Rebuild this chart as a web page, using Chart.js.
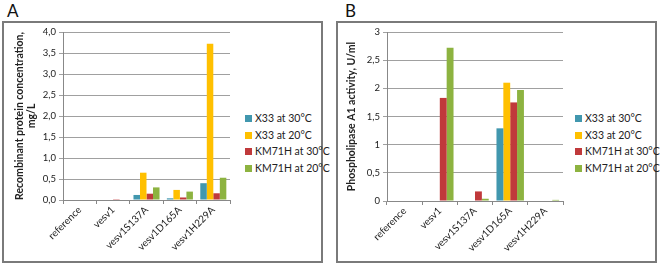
<!DOCTYPE html>
<html>
<head>
<meta charset="utf-8">
<script src="https://cdn.jsdelivr.net/npm/chart.js@4"></script>
<style>
  body { margin: 0; background: #fff; font-family: Lato, sans-serif; }
  .panel { position: absolute; top: 21px; width: 317px; height: 238px; border: 2px solid #7a7a7a; }
  .panel canvas { position: absolute; left: 0; top: 0; }
  .letter { position: absolute; top: 0px; font-size: 17px; color: #111; }
  .legend { position: absolute; top: 87px; font-size: 10.5px; color: #222; }
  .legend div { height: 16.7px; line-height: 16.7px; white-space: nowrap; }
  .legend span { display: inline-block; width: 7px; height: 7px; margin-right: 3px; vertical-align: -0px; }
</style>
</head>
<body>
<div class="letter" style="left:7px">A</div>
<div class="letter" style="left:345px">B</div>
<div class="panel" style="left:2px"><canvas id="chartA"></canvas><div class="legend" id="legA" style="left:241px"></div></div>
<div class="panel" style="left:336px"><canvas id="chartB"></canvas><div class="legend" id="legB" style="left:237px"></div></div>
<script>
const categories = ["reference", "vesv1", "vesv1S137A", "vesv1D165A", "vesv1H229A"];
const seriesNames = ["X33 at 30°C", "X33 at 20°C", "KM71H at 30°C", "KM71H at 20°C"];
const seriesColors = ["#4197ae", "#ffc000", "#c0393b", "#8db340"];

// panel A: recombinant protein concentration, mg/L
const concX33_30 = [0, 0, 0.12, 0.04, 0.40];
const concX33_20 = [0, 0, 0.65, 0.24, 3.72];
const concKM_30 = [0, 0.02, 0.15, 0.06, 0.16];
const concKM_20 = [0, 0, 0.30, 0.20, 0.53];

// panel B: phospholipase A1 activity, U/ml
const actX33_30 = [0, 0, 0, 1.29, 0];
const actX33_20 = [0, 0, 0, 2.10, 0];
const actKM_30 = [0, 1.83, 0.17, 1.75, 0];
const actKM_20 = [0, 2.72, 0.04, 1.97, 0.02];

Chart.defaults.font.family = "Lato, sans-serif";
Chart.defaults.color = "#222";

function makeLegend(id) {
  const el = document.getElementById(id);
  seriesNames.forEach((name, i) => {
    const row = document.createElement("div");
    const box = document.createElement("span");
    box.style.background = seriesColors[i];
    row.appendChild(box);
    row.appendChild(document.createTextNode(name));
    el.appendChild(row);
  });
}

function makeChart(id, data, yMax, title, decimals, size) {
  const c = document.getElementById(id);
  c.width = size.w; c.height = 238;
  c.style.width = size.w + "px"; c.style.height = "238px";
  new Chart(c, {
    type: "bar",
    data: {
      labels: categories,
      datasets: data.map((d, i) => ({
        label: seriesNames[i],
        data: d,
        backgroundColor: seriesColors[i],
        categoryPercentage: 0.78,
        barPercentage: 1.0
      }))
    },
    options: {
      responsive: false,
      animation: false,
      layout: { padding: { left: 0, right: size.right, top: 9, bottom: 0 } },
      plugins: { legend: { display: false }, tooltip: { enabled: false } },
      scales: {
        x: {
          afterFit: s => { s.height = size.xh; },
          grid: { drawOnChartArea: false, color: "#888", tickLength: 4 },
          border: { color: "#888" },
          ticks: { maxRotation: 45, minRotation: 45, font: { size: 10 }, padding: 0 }
        },
        y: {
          min: 0,
          max: yMax,
          afterFit: s => { s.width = size.yw; },
          grid: { color: "#a0a0a0", tickLength: 4 },
          border: { color: "#888" },
          ticks: {
            stepSize: 0.5,
            font: { size: 9.5 },
            callback: v => (decimals ? v.toFixed(1) : String(v)).replace(".", ",")
          },
          title: { display: true, text: title, font: { size: 10.5, weight: "bold" },
                   padding: { top: size.titlePad, bottom: 2 } }
        }
      }
    }
  });
}

makeLegend("legA");
makeLegend("legB");
makeChart("chartA", [concX33_30, concX33_20, concKM_30, concKM_20], 4,
  ["Recombinant protein concentration,", "mg/L"], true, { w: 232, right: 6, yw: 59, xh: 61, titlePad: 9 });
makeChart("chartB", [actX33_30, actX33_20, actKM_30, actKM_20], 3,
  "Phospholipase A1 activity, U/ml", false, { w: 232, right: 7, yw: 49, xh: 60, titlePad: 7 });
</script>
</body>
</html>
